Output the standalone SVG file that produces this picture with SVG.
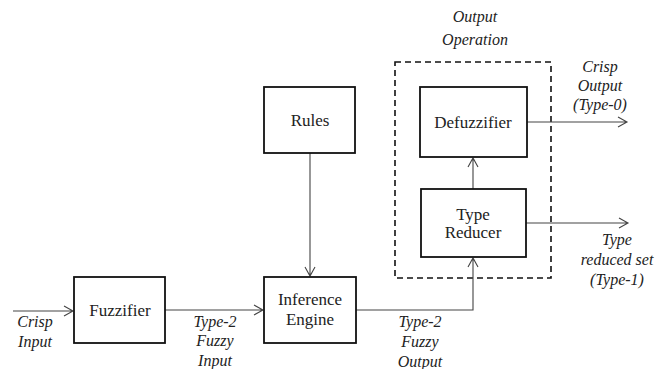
<svg xmlns="http://www.w3.org/2000/svg" width="656" height="369" viewBox="0 0 656 369">
  <style>
    .box { fill: #fff; stroke: #111; stroke-width: 1.8; }
    .wire { fill: none; stroke: #444; stroke-width: 1.1; }
    .dash { fill: none; stroke: #111; stroke-width: 1.6; stroke-dasharray: 6 4; }
  </style>
  <rect width="656" height="369" fill="#fff"/>

  <!-- output operation boundary -->
  <g id="output-operation">
    <rect class="dash" x="395" y="62" width="156" height="216"/>
    <text x="475" y="22" font-family="Liberation Serif" font-size="16" font-style="italic" fill="#222" text-anchor="middle">Output</text>
    <text x="475" y="45" font-family="Liberation Serif" font-size="16" font-style="italic" fill="#222" text-anchor="middle">Operation</text>
  </g>

  <!-- connectors: shafts plus open chevron heads -->
  <g id="connectors">
    <path class="wire" d="M13,311 H73 M64,306 L73,311 L64,316"/>
    <path class="wire" d="M165,310 H263 M254,305 L263,310 L254,315"/>
    <path class="wire" d="M310,153 V276 M305,267 L310,276 L315,267"/>
    <path class="wire" d="M356,310 H473 V258 M468,267 L473,258 L478,267"/>
    <path class="wire" d="M473,189 V158 M468,167 L473,158 L478,167"/>
    <path class="wire" d="M527,122 H627 M618,117 L627,122 L618,127"/>
    <path class="wire" d="M526,223 H628 M619,218 L628,223 L619,228"/>
  </g>

  <g id="fuzzifier">
    <rect class="box" x="74" y="277" width="91" height="66"/>
    <text x="120" y="316" font-family="Liberation Serif" font-size="17" fill="#222" text-anchor="middle">Fuzzifier</text>
  </g>

  <g id="rules">
    <rect class="box" x="264" y="87" width="91" height="66"/>
    <text x="310" y="126" font-family="Liberation Serif" font-size="17" fill="#222" text-anchor="middle">Rules</text>
  </g>

  <g id="inference-engine">
    <rect class="box" x="264" y="277" width="92" height="66"/>
    <text x="310" y="305" font-family="Liberation Serif" font-size="17" fill="#222" text-anchor="middle">Inference</text>
    <text x="310" y="325" font-family="Liberation Serif" font-size="17" fill="#222" text-anchor="middle">Engine</text>
  </g>

  <g id="defuzzifier">
    <rect class="box" x="420" y="87" width="107" height="70"/>
    <text x="473" y="128" font-family="Liberation Serif" font-size="17" fill="#222" text-anchor="middle">Defuzzifier</text>
  </g>

  <g id="type-reducer">
    <rect class="box" x="421" y="189" width="105" height="68"/>
    <text x="473" y="220" font-family="Liberation Serif" font-size="17" fill="#222" text-anchor="middle">Type</text>
    <text x="473" y="238" font-family="Liberation Serif" font-size="17" fill="#222" text-anchor="middle">Reducer</text>
  </g>

  <!-- signal labels -->
  <g id="labels" font-family="Liberation Serif" font-size="16" font-style="italic" fill="#222" text-anchor="middle">
    <text x="35" y="327">Crisp</text>
    <text x="35" y="347">Input</text>

    <text x="215" y="327">Type-2</text>
    <text x="215" y="346">Fuzzy</text>
    <text x="215" y="366">Input</text>

    <text x="420" y="327">Type-2</text>
    <text x="420" y="347">Fuzzy</text>
    <text x="420" y="367">Output</text>

    <text x="600" y="72">Crisp</text>
    <text x="600" y="91">Output</text>
    <text x="600" y="110">(Type-0)</text>

    <text x="617" y="245">Type</text>
    <text x="617" y="265">reduced set</text>
    <text x="617" y="285">(Type-1)</text>
  </g>
</svg>
